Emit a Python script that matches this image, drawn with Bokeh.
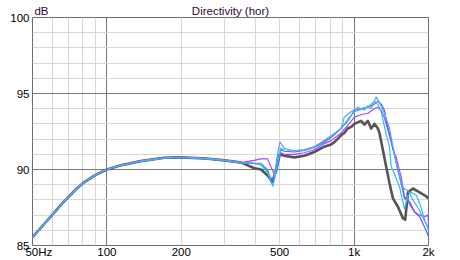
from bokeh.plotting import figure
from bokeh.models import FixedTicker, LinearAxis, Range1d, LinearScale
from bokeh.embed import file_html
from bokeh.resources import INLINE

# ---- data ----
freq_low = [50, 55, 60, 65, 70, 75, 80, 90, 100, 114, 137, 171, 200, 250, 300, 350]
db_low = [85.55, 86.3, 87.0, 87.65, 88.2, 88.7, 89.1, 89.65, 90.0, 90.28, 90.55, 90.77, 90.8, 90.72, 90.6, 90.45]

gray_f = [393, 420, 447, 468, 485, 500, 522, 573, 629, 690, 758, 807, 832, 886, 913, 943, 973,
          1003, 1035, 1067, 1101, 1137, 1172, 1209, 1248, 1267, 1307, 1348, 1391, 1436, 1504,
          1576, 1610, 1652, 1730, 1841, 1929, 2000]
gray_db = [90.1, 90.0, 89.6, 89.2, 90.0, 91.0, 90.9, 90.8, 90.9, 91.15, 91.5, 91.65, 91.8, 92.25, 92.4, 92.7, 92.8,
           93.0, 93.1, 93.2, 92.95, 93.2, 92.7, 93.0, 92.7, 92.4, 91.3, 90.2, 89.1, 88.1, 87.55,
           86.8, 86.7, 88.5, 88.75, 88.5, 88.3, 88.1]

violet_f = [393, 420, 447, 460, 475, 490, 505, 522, 573, 629, 690, 758, 807, 886, 943, 1003, 1067,
            1137, 1209, 1248, 1287, 1327, 1370, 1413, 1436, 1480, 1551, 1600, 1652, 1703, 1757,
            1841, 1929, 1990, 2000]
violet_db = [90.6, 90.7, 90.7, 90.2, 89.7, 90.3, 91.1, 91.0, 91.0, 91.1, 91.3, 91.7, 91.9, 92.4, 92.9, 93.45, 93.6,
             93.7, 94.0, 94.1, 93.9, 93.4, 92.6, 91.8, 91.3, 90.8, 89.5, 88.2, 87.9, 87.55, 87.2,
             87.0, 86.9, 87.0, 86.5]

blue_f = [393, 420, 447, 465, 485, 505, 522, 573, 629, 690, 758, 807, 886, 943, 1003, 1067, 1137,
          1209, 1248, 1287, 1327, 1348, 1413, 1504, 1576, 1600, 1677, 1757, 1841, 1929, 2000]
blue_db = [90.4, 90.35, 89.9, 89.1, 90.2, 91.3, 91.2, 91.15, 91.25, 91.45, 91.8, 92.1, 92.7, 93.2, 93.9, 94.0, 94.1,
           94.3, 94.5, 94.3, 93.9, 93.2, 91.9, 89.95, 88.6, 88.1, 87.9, 87.2, 86.9, 86.2, 85.6]

cyan_f = [393, 420, 447, 460, 470, 485, 505, 522, 573, 629, 690, 758, 807, 886, 943, 1003, 1067,
          1137, 1209, 1248, 1287, 1348, 1391, 1413, 1457, 1527, 1600, 1652, 1703, 1785, 1841, 1929, 2000]
cyan_db = [90.4, 90.3, 89.8, 89.2, 88.9, 90.0, 91.4, 91.3, 91.25, 91.3, 91.5, 91.9, 92.2, 92.7, 93.3, 93.8, 93.95,
           94.1, 94.5, 94.3, 93.8, 92.3, 91.5, 90.2, 89.7, 88.85, 87.4, 88.3, 88.5, 88.3, 87.8, 86.7, 86.0]

lblue_f = [393, 420, 447, 460, 475, 490, 501, 522, 573, 629, 690, 758, 807, 886, 913, 973, 1035,
           1101, 1137, 1172, 1228, 1267, 1327, 1391, 1436, 1480, 1527, 1576, 1652, 1730, 1841, 1929, 2000]
lblue_db = [90.4, 90.4, 90.0, 89.4, 89.6, 91.0, 91.8, 91.4, 91.2, 91.3, 91.5, 91.9, 92.2, 92.7, 93.45, 93.8, 94.1,
            93.9, 94.2, 94.0, 94.77, 94.4, 93.7, 92.7, 91.5, 90.5, 89.6, 88.8, 88.6, 88.0, 87.3, 86.6, 86.2]

x_ticks = [50, 100, 200, 500, 1000, 2000]
x_tick_labels = ["\u2007\u200750Hz", "100", "200", "500", "1k", "2k"]
y_ticks = [85, 90, 95, 100]
y_tick_labels = ["85", "90", "95", "100"]
x_major_grid = [100, 1000]
x_minor_grid = [60, 70, 80, 90, 200, 300, 400, 500, 600, 700, 800, 900, 2000]
y_major_grid = [90, 95]
y_minor_grid = [86, 87, 88, 89, 91, 92, 93, 94, 96, 97, 98, 99]
header_texts = ["dB", "Directivity (hor)"]

FONT = "Liberation Sans"
TXT = "#000000"
FRAME_W = 396

p = figure(width=460, height=260, x_axis_type="log", x_range=(50, 2000), y_range=(85, 100),
           output_backend="svg", toolbar_location=None, title=None,
           min_border_left=32, min_border_right=32, min_border_top=17, min_border_bottom=13)
p.background_fill_color = "white"
p.border_fill_color = "white"
p.outline_line_color = "#6e6e6e"
p.outline_line_width = 1

xax = p.below[0]
yax = p.left[0]

# header row (unit label at left, title centred over the frame) on a pixel-like helper range
p.extra_x_ranges = {"hdr": Range1d(0, FRAME_W)}
p.extra_x_scales = {"hdr": LinearScale()}
hdr_pos = [9, FRAME_W / 2]
hdr = LinearAxis(x_range_name="hdr", ticker=FixedTicker(ticks=hdr_pos),
                 major_label_overrides=dict(zip(hdr_pos, header_texts)))
p.add_layout(hdr, "above")

for ax in (xax, yax, hdr):
    ax.axis_line_color = None
    ax.major_tick_line_color = None
    ax.minor_tick_line_color = None
    ax.major_tick_out = 0
    ax.major_tick_in = 0
    ax.minor_tick_out = 0
    ax.minor_tick_in = 0
    ax.axis_label_standoff = 0
    ax.major_label_text_font = FONT
    ax.major_label_text_font_size = "11.5px"
    ax.major_label_text_color = TXT

hdr.major_label_text_color = "#2e0a34"
hdr.major_label_standoff = 1

xax.ticker = FixedTicker(ticks=x_ticks)
xax.major_label_overrides = dict(zip(x_ticks, x_tick_labels))
xax.major_label_standoff = 0
yax.ticker = FixedTicker(ticks=y_ticks)
yax.major_label_overrides = dict(zip(y_ticks, y_tick_labels))
yax.major_label_standoff = 3

p.xgrid[0].ticker = FixedTicker(ticks=x_major_grid, minor_ticks=x_minor_grid)
p.ygrid[0].ticker = FixedTicker(ticks=y_major_grid, minor_ticks=y_minor_grid)
for g in (p.xgrid[0], p.ygrid[0]):
    g.grid_line_color = "#7a7a7a"
    g.grid_line_width = 1
    g.minor_grid_line_color = "#d8d8d8"
    g.minor_grid_line_width = 1

series = [
    (gray_f, gray_db, "#555555", 2.6),
    (violet_f, violet_db, "#b040ff", 1.2),
    (blue_f, blue_db, "#5a5cff", 1.2),
    (cyan_f, cyan_db, "#22c4e8", 1.2),
    (lblue_f, lblue_db, "#5aa2ff", 1.2),
]
for f, d, c, w in series:
    p.line(freq_low + f, db_low + d, line_color=c, line_width=w, line_join="round")

open("out.html", "w").write(file_html(p, INLINE))
